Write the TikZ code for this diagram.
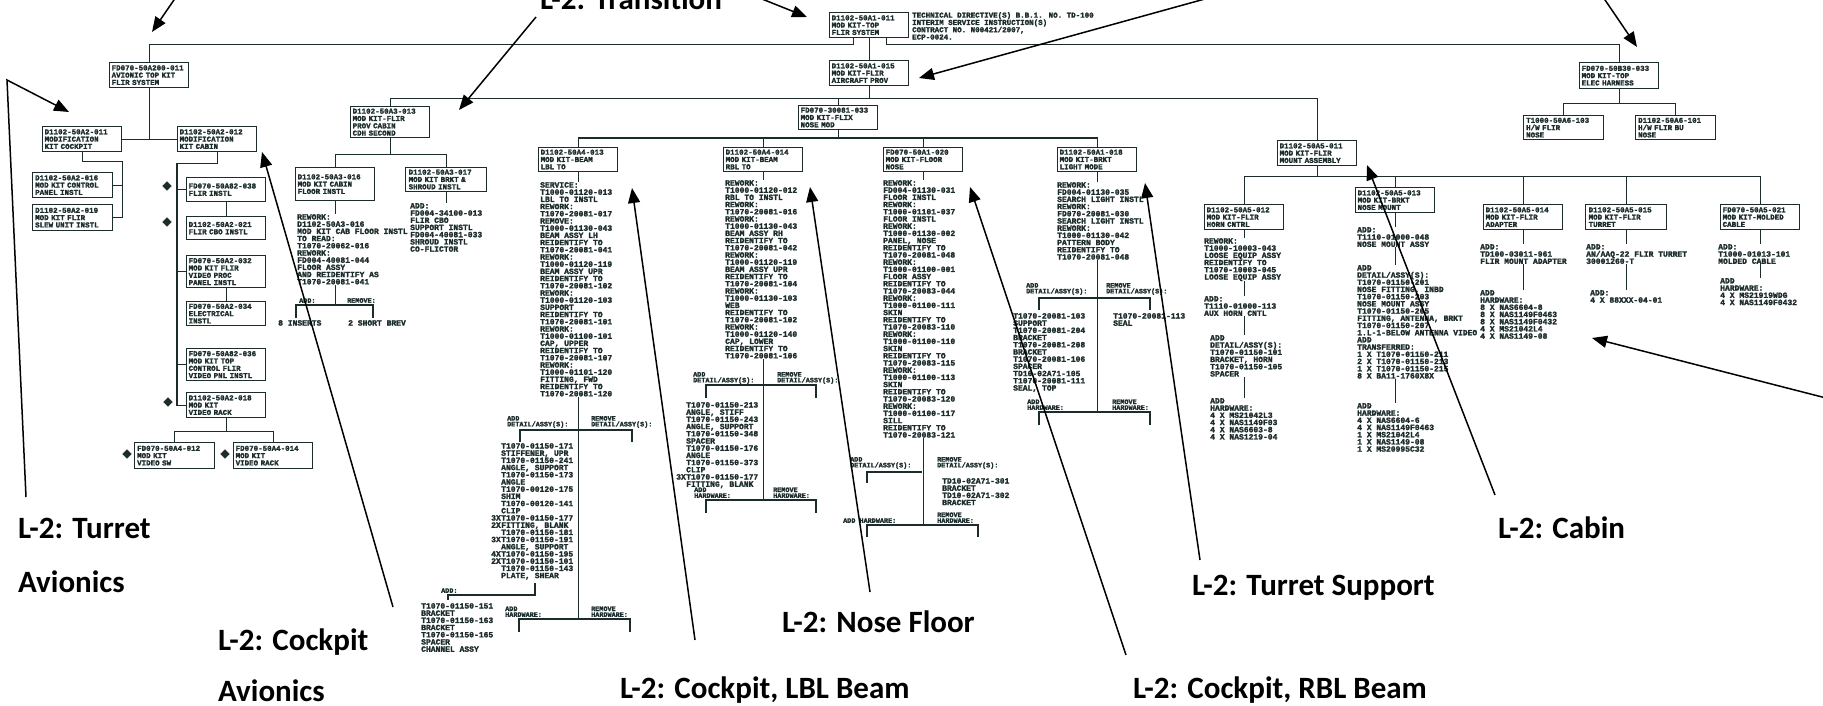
\documentclass[tikz,border=0pt]{standalone}
\usepackage{fontspec}
\usetikzlibrary{arrows.meta, shapes.geometric, calc}

\newfontfamily\calloutfam{Carlito}
\newfontfamily\partfam{Liberation Mono}[FakeBold=2]
\newcommand\calloutfont{\calloutfam\bfseries\fontsize{31}{36}\selectfont}
\newcommand\boxfont{\partfam\bfseries\fontsize{7.5}{7.3}\selectfont}
\newcommand\notefont{\partfam\bfseries\fontsize{8}{7.2}\selectfont}
\newcommand\tagfont{\partfam\bfseries\fontsize{6.8}{5.8}\selectfont}
\newcommand\mk[1]{\makebox[10pt][l]{#1}}
\definecolor{treeink}{HTML}{1C2B2B}

\begin{document}
\begin{tikzpicture}[
    x=1pt, y=-1pt,
    pbox/.style={
        draw=treeink,
        line width=1.3pt,
        anchor=north west,
        align=left,
        text width=75pt,
        inner sep=2pt,
        font=\boxfont,
        text=treeink,
        minimum width=79pt,
        minimum height=25pt
    },
    note/.style={anchor=north west, align=left, inner sep=0pt, font=\notefont, text=treeink},
    tag/.style={anchor=south west, align=left, inner sep=0pt, font=\tagfont, text=treeink},
    flag/.style={diamond, draw=treeink, fill=treeink, inner sep=0pt, minimum size=9pt},
    tline/.style={draw=treeink, line width=1.2pt},
    callout/.style={anchor=base west, inner sep=0pt, font=\calloutfont},
    pointer/.style={-{Triangle[length=15pt, width=12pt]}, line width=1.5pt}
]
    \useasboundingbox (0,0) rectangle (1823,706);

    % top of the tree
    \node[pbox] (root) at (829,12) {D1102-50A1-011\\MOD KIT-TOP\\FLIR SYSTEM};
    \node[note, font=\boxfont] (rootnote) at (912,12) {TECHNICAL DIRECTIVE(S) B.B.1. NO. TD-100\\INTERIM SERVICE INSTRUCTION(S)\\CONTRACT NO. N00421/2007,\\ECP-0024.};
    \node[pbox] (prov) at (829,60) {D1102-50A1-015\\MOD KIT-FLIR\\AIRCRAFT PROV};
    \node[pbox, minimum height=23pt] (flix) at (798,105) {FD070-30081-033\\MOD KIT-FLIX\\NOSE MOD};

    % avionics branch
    \node[pbox] (avtop) at (109,62) {FD070-50A200-011\\AVIONIC TOP KIT\\FLIR SYSTEM};
    \node[pbox] (cockpit) at (42,126) {D1102-50A2-011\\MODIFICATION\\KIT COCKPIT};
    \node[pbox] (cabav) at (177,126) {D1102-50A2-012\\MODIFICATION\\KIT CABIN};
    \node[pbox, minimum width=80pt] (ctl) at (32,172) {D1102-50A2-016\\MOD KIT CONTROL\\PANEL INSTL};
    \node[pbox, minimum width=80pt, minimum height=26pt] (slew) at (32,204) {D1102-50A2-019\\MOD KIT FLIR\\SLEW UNIT INSTL};
    \node[pbox, minimum height=24pt] (b1) at (186,177) {FD070-50A82-038\\FLIR INSTL};
    \node[pbox, minimum height=23pt] (b2) at (186,216) {D1102-50A2-021\\FLIR CBO INSTL};
    \node[pbox, minimum height=32pt] (b3) at (186,255) {FD070-50A2-032\\MOD KIT FLIR\\VIDEO PROC\\PANEL INSTL};
    \node[pbox, minimum height=24pt] (b4) at (186,301) {FD070-50A2-034\\ELECTRICAL\\INSTL};
    \node[pbox, minimum height=32pt] (b5) at (186,348) {FD070-50A82-036\\MOD KIT TOP\\CONTROL FLIR\\VIDEO PNL INSTL};
    \node[pbox] (b6) at (186,392) {D1102-50A2-018\\MOD KIT\\VIDEO RACK};
    \node[pbox, minimum width=80pt, minimum height=26pt] (b7) at (134,442) {FD070-50A4-012\\MOD KIT\\VIDEO SW};
    \node[pbox, minimum width=78pt, minimum height=26pt] (b8) at (233,442) {FD070-50A4-014\\MOD KIT\\VIDEO RACK};
    \node[flag] (fl1) at (167,186) {};
    \node[flag] (fl2) at (167,222) {};
    \node[flag] (fl3) at (168,402) {};
    \node[flag] (fl4) at (127,454) {};
    \node[flag] (fl5) at (225,454) {};

    % transition branch
    \node[pbox, minimum height=31pt] (trans) at (350,106) {D1102-50A3-013\\MOD KIT-FLIR\\PROV CABIN\\CDH SECOND};
    \node[pbox, minimum height=33pt] (tb1) at (295,167) {D1102-50A3-016\\MOD KIT CABIN\\FLOOR INSTL};
    \node[pbox, minimum width=81pt, minimum height=23pt] (tb2) at (405,167) {D1102-50A3-017\\MOD KIT BRKT \&\\SHROUD INSTL};
    \node[note] (tb1txt) at (297,214) {REWORK:\\D1102-50A3-016\\MOD KIT CAB FLOOR INSTL\\TO READ:\\T1070-20062-016\\REWORK:\\FD004-40081-044\\FLOOR ASSY\\AND REIDENTIFY AS\\T1070-20081-041};
    \node[note] (tb2txt) at (410,203) {ADD:\\FD004-34100-013\\FLIR CBO\\SUPPORT INSTL\\FD004-40081-033\\SHROUD INSTL\\CO-FLICTOR};
    \node[tag] (tbt1) at (299,303) {ADD:};
    \node[tag] (tbt2) at (347,303) {REMOVE:};
    \node[note] (tbins) at (278,320) {8 INSERTS};
    \node[note] (tbbrev) at (348,320) {2 SHORT BREV};

    % nose beams and floor
    \node[pbox, minimum height=23pt] (c1) at (538,147) {D1102-50A4-013\\MOD KIT-BEAM\\LBL TO};
    \node[pbox, minimum height=23pt] (c2) at (723,147) {D1102-50A4-014\\MOD KIT-BEAM\\RBL TO};
    \node[pbox, minimum height=23pt] (c3) at (883,147) {FD070-50A1-020\\MOD KIT-FLOOR\\NOSE};
    \node[pbox, minimum height=23pt] (c4) at (1057,147) {D1102-50A1-018\\MOD KIT-BRKT\\LIGHT MODE};

    \node[note] (c1txt) at (540,182) {SERVICE:\\T1000-01120-013\\LBL TO INSTL\\REWORK:\\T1070-20081-017\\REMOVE:\\T1000-01130-043\\BEAM ASSY LH\\REIDENTIFY TO\\T1070-20081-041\\REWORK:\\T1000-01120-119\\BEAM ASSY UPR\\REIDENTIFY TO\\T1070-20081-102\\REWORK:\\T1000-01120-103\\SUPPORT\\REIDENTIFY TO\\T1070-20081-101\\REWORK:\\T1000-01100-101\\CAP, UPPER\\REIDENTIFY TO\\T1070-20081-107\\REWORK:\\T1000-01101-120\\FITTING, FWD\\REIDENTIFY TO\\T1070-20081-120};
    \node[tag] (c1t1) at (507,428) {ADD\\DETAIL/ASSY(S):};
    \node[tag] (c1t2) at (591,428) {REMOVE\\DETAIL/ASSY(S):};
    \node[note] (c1add) at (491,443) {\mk{}T1070-01150-171\\\mk{}STIFFENER, UPR\\\mk{}T1070-01150-241\\\mk{}ANGLE, SUPPORT\\\mk{}T1070-01150-173\\\mk{}ANGLE\\\mk{}T1070-00120-175\\\mk{}SHIM\\\mk{}T1070-00120-141\\\mk{}CLIP\\\mk{3X}T1070-01150-177\\\mk{2X}FITTING, BLANK\\\mk{}T1070-01150-181\\\mk{3X}T1070-01150-191\\\mk{}ANGLE, SUPPORT\\\mk{4X}T1070-01150-195\\\mk{2X}T1070-01150-101\\\mk{}T1070-01150-143\\\mk{}PLATE, SHEAR};
    \node[tag] (c1t3) at (441,593) {ADD:};
    \node[note] (c1adx) at (421,603) {T1070-01150-151\\BRACKET\\T1070-01150-163\\BRACKET\\T1070-01150-165\\SPACER\\CHANNEL ASSY};
    \node[tag] (c1t4) at (505,617) {ADD\\HARDWARE:};
    \node[tag] (c1t5) at (591,617) {REMOVE\\HARDWARE:};

    \node[note] (c2txt) at (725,180) {REWORK:\\T1000-01120-012\\RBL TO INSTL\\REWORK:\\T1070-20081-016\\REWORK:\\T1000-01130-043\\BEAM ASSY RH\\REIDENTIFY TO\\T1070-20081-042\\REWORK:\\T1000-01120-119\\BEAM ASSY UPR\\REIDENTIFY TO\\T1070-20081-104\\REWORK:\\T1000-01130-103\\WEB\\REIDENTIFY TO\\T1070-20081-102\\REWORK:\\T1000-01120-140\\CAP, LOWER\\REIDENTIFY TO\\T1070-20081-106};
    \node[tag] (c2t1) at (693,384) {ADD\\DETAIL/ASSY(S):};
    \node[tag] (c2t2) at (777,384) {REMOVE\\DETAIL/ASSY(S):};
    \node[note] (c2add) at (676,402) {\mk{}T1070-01150-213\\\mk{}ANGLE, STIFF\\\mk{}T1070-01150-243\\\mk{}ANGLE, SUPPORT\\\mk{}T1070-01150-348\\\mk{}SPACER\\\mk{}T1070-01150-176\\\mk{}ANGLE\\\mk{}T1070-01150-373\\\mk{}CLIP\\\mk{3X}T1070-01150-177\\\mk{}FITTING, BLANK};
    \node[tag] (c2t3) at (694,498) {ADD\\HARDWARE:};
    \node[tag] (c2t4) at (773,498) {REMOVE\\HARDWARE:};

    \node[note] (c3txt) at (883,180) {REWORK:\\FD004-01130-031\\FLOOR INSTL\\REWORK:\\T1000-01101-037\\FLOOR INSTL\\REWORK:\\T1000-01130-002\\PANEL, NOSE\\REIDENTIFY TO\\T1070-20081-048\\REWORK:\\T1000-01100-001\\FLOOR ASSY\\REIDENTIFY TO\\T1070-20083-044\\REWORK:\\T1000-01100-111\\SKIN\\REIDENTIFY TO\\T1070-20083-110\\REWORK:\\T1000-01100-110\\SKIN\\REIDENTIFY TO\\T1070-20083-115\\REWORK:\\T1000-01100-113\\SKIN\\REIDENTIFY TO\\T1070-20083-120\\REWORK:\\T1000-01100-117\\SILL\\REIDENTIFY TO\\T1070-20083-121};
    \node[tag] (c3t1) at (850,469) {ADD\\DETAIL/ASSY(S):};
    \node[tag] (c3t2) at (937,469) {REMOVE\\DETAIL/ASSY(S):};
    \node[note] (c3rt) at (942,478) {TD10-02A71-301\\BRACKET\\TD10-02A71-302\\BRACKET};
    \node[tag] (c3t3) at (843,523) {ADD HARDWARE:};
    \node[tag] (c3t4) at (937,523) {REMOVE\\HARDWARE:};

    \node[note] (c4txt) at (1057,182) {REWORK:\\FD004-01130-035\\SEARCH LIGHT INSTL\\REWORK:\\FD070-20081-030\\SEARCH LIGHT INSTL\\REWORK:\\T1000-01130-042\\PATTERN BODY\\REIDENTIFY TO\\T1070-20081-048};
    \node[tag] (c4t1) at (1026,295) {ADD\\DETAIL/ASSY(S):};
    \node[tag] (c4t2) at (1106,295) {REMOVE\\DETAIL/ASSY(S):};
    \node[note] (c4lt) at (1013,313) {T1070-20081-103\\SUPPORT\\T1070-20081-204\\BRACKET\\T1070-20081-208\\BRACKET\\T1070-20081-106\\SPACER\\TD10-02A71-105\\T1070-20081-111\\SEAL, TOP};
    \node[note] (c4rt) at (1113,313) {T1070-20081-113\\SEAL};
    \node[tag] (c4t3) at (1027,410) {ADD\\HARDWARE:};
    \node[tag] (c4t4) at (1112,410) {REMOVE\\HARDWARE:};

    % cabin branch
    \node[pbox] (cabin) at (1277,140) {D1102-50A5-011\\MOD KIT-FLIR\\MOUNT ASSEMBLY};
    \node[pbox] (k1) at (1204,204) {D1102-50A5-012\\MOD KIT-FLIR\\HORN CNTRL};
    \node[pbox] (k2) at (1355,187) {D1102-50A5-013\\MOD KIT-BRKT\\NOSE MOUNT};
    \node[pbox] (k3) at (1483,204) {D1102-50A5-014\\MOD KIT-FLIR\\ADAPTER};
    \node[pbox, minimum width=81pt] (k4) at (1585,204) {D1102-50A5-015\\MOD KIT-FLIR\\TURRET};
    \node[pbox, minimum width=78pt] (k5) at (1720,204) {FD070-50A5-021\\MOD KIT-MOLDED\\CABLE};

    \node[note] (k1a) at (1204,238) {REWORK:\\T1000-10003-043\\LOOSE EQUIP ASSY\\REIDENTIFY TO\\T1070-10003-045\\LOOSE EQUIP ASSY};
    \node[note] (k1b) at (1204,296) {ADD:\\T1110-01000-113\\AUX HORN CNTL};
    \node[note] (k1c) at (1210,335) {ADD\\DETAIL/ASSY(S):\\T1070-01150-101\\BRACKET, HORN\\T1070-01150-105\\SPACER};
    \node[note] (k1d) at (1210,398) {ADD\\HARDWARE:\\4 X MS21042L3\\4 X NAS1149F03\\4 X NAS6603-8\\4 X NAS1219-04};
    \node[note] (k2a) at (1357,227) {ADD:\\T1110-01000-048\\NOSE MOUNT ASSY};
    \node[note] (k2b) at (1357,265) {ADD\\DETAIL/ASSY(S):\\T1070-01150-201\\NOSE FITTING, INBD\\T1070-01150-203\\NOSE MOUNT ASSY\\T1070-01150-205\\FITTING, ANTENNA, BRKT\\T1070-01150-207\\1.L-1-BELOW ANTENNA VIDEO\\ADD\\TRANSFERRED:\\1 X T1070-01150-211\\2 X T1070-01150-213\\1 X T1070-01150-215\\8 X BA11-1760X8X};
    \node[note] (k2c) at (1357,403) {ADD\\HARDWARE:\\4 X NAS6604-6\\4 X NAS1149F0463\\1 X MS21042L4\\1 X NAS1149-08\\1 X MS20995C32};
    \node[note] (k3a) at (1480,244) {ADD:\\TD100-03011-961\\FLIR MOUNT ADAPTER};
    \node[note] (k3b) at (1480,290) {ADD\\HARDWARE:\\8 X NAS6604-8\\8 X NAS1149F0463\\8 X NAS1149F0432\\4 X MS21042L4\\4 X NAS1149-08};
    \node[note] (k4a) at (1586,244) {ADD:\\AN/AAQ-22 FLIR TURRET\\30001260-T};
    \node[note] (k4b) at (1590,290) {ADD:\\4 X 88XXX-04-01};
    \node[note] (k5a) at (1718,244) {ADD:\\T1000-01013-101\\MOLDED CABLE};
    \node[note] (k5b) at (1720,278) {ADD\\HARDWARE:\\4 X MS21919WDG\\4 X NAS1149F0432};

    % electrical branch
    \node[pbox, minimum height=26pt] (elec) at (1579,62) {FD070-50B30-033\\MOD KIT-TOP\\ELEC HARNESS};
    \node[pbox, minimum width=80pt, minimum height=24pt] (r1) at (1523,115) {T1000-50A6-103\\H/W FLIR\\NOSE};
    \node[pbox, minimum width=80pt, minimum height=24pt] (r2) at (1635,115) {D1102-50A6-101\\H/W FLIR BU\\NOSE};

    % tree lines
    \draw[tline] (avtop.north) |- ([xshift=-16pt, yshift=-6pt]root.south) -- ([xshift=-16pt]root.south);
    \draw[tline] (elec.north) |- ([xshift=17pt, yshift=-6pt]root.south) -- ([xshift=17pt]root.south);
    \draw[tline] (root.south) -- (prov.north);
    \coordinate (busB) at ([yshift=-12pt]prov.south);
    \draw[tline] (prov.south) -- (busB);
    \draw[tline] (trans.north) |- (busB) -| (cabin.north);
    \draw[tline] (flix.north) -- (flix.north |- busB);
    \coordinate (busC) at ([yshift=-8pt]flix.south);
    \draw[tline] (flix.south) -- (busC);
    \draw[tline] (c1.north) |- (busC) -| (c4.north);
    \draw[tline] (c2.north) -- (c2.north |- busC);
    \draw[tline] (c3.north) -- (c3.north |- busC);

    \draw[tline] (avtop.south) -- (avtop.south |- cockpit.east);
    \draw[tline] (cockpit.east) -- (cabav.west);
    \draw[tline] (cockpit.south) -- ++(0,9) -| ([xshift=9pt]slew.east) -- (slew.east);
    \draw[tline] (ctl.east) -- ++(9,0);
    \draw[tline] (cabav.south) -- ++(0,11) -| ([xshift=-9pt]b6.west) -- (b6.west);
    \draw[tline] (b1.west) -- ++(-9,0);
    \draw[tline] (b3.west) -- ++(-9,0);
    \draw[tline] (b5.west) -- ++(-9,0);
    \draw[tline] (b1.south) -- (b2.north);
    \draw[tline] (b3.south) -- (b4.north);
    \draw[tline] (b6.south) -- ++(0,13) coordinate (busD);
    \draw[tline] (b7.north) |- (busD) -| (b8.north);

    \draw[tline] (trans.south) -- ++(0,16) coordinate (busE);
    \draw[tline] (tb1.north) |- (busE) -| (tb2.north);
    \draw[tline] (tb1.south) -- (tb1.south |- tb1txt.north);
    \coordinate (busF) at (334,305);
    \draw[tline] (tb1.south |- tb1txt.south) -- (tb1.south |- busF);
    \coordinate (tbl) at (296,318);
    \coordinate (tbr) at (373,318);
    \draw[tline] (tbl) -- ++(0,-13) -| (tbr);
    \draw[tline] (tb2.south) -- (tb2.south |- tb2txt.north);

    \coordinate (c1hw) at (577,619);
    \draw[tline] (c1.south) -- (c1.south |- c1txt.north);
    \draw[tline] (c1.south |- c1txt.south) -- (c1.south |- c1hw);
    \coordinate (c1dl) at (520,442);
    \coordinate (c1dr) at (632,442);
    \draw[tline] (c1dl) -- ++(0,-12) -| (c1dr);
    \coordinate (c1al) at (535,583);
    \coordinate (c1ar) at (448,600);
    \draw[tline] (c1al) -- ++(0,12) -| (c1ar);
    \coordinate (c1hl) at (519,632);
    \coordinate (c1hr) at (630,632);
    \draw[tline] (c1hl) -- ++(0,-13) -| (c1hr);

    \coordinate (c2hw) at (762,500);
    \draw[tline] (c2.south) -- (c2.south |- c2txt.north);
    \draw[tline] (c2.south |- c2txt.south) -- (c2.south |- c2hw);
    \coordinate (c2dl) at (706,398);
    \coordinate (c2dr) at (816,398);
    \draw[tline] (c2dl) -- ++(0,-13) -| (c2dr);
    \coordinate (c2hl) at (706,513);
    \coordinate (c2hr) at (816,513);
    \draw[tline] (c2hl) -- ++(0,-13) -| (c2hr);

    \coordinate (c3hw) at (922,525);
    \draw[tline] (c3.south) -- (c3.south |- c3txt.north);
    \draw[tline] (c3.south |- c3txt.south) -- (c3.south |- c3hw);
    \coordinate (c3dl) at (867,483);
    \coordinate (c3bar) at (922,472);
    \draw[tline] (c3dl) |- (c3bar);
    \coordinate (c3hl) at (867,537);
    \coordinate (c3hr) at (978,537);
    \draw[tline] (c3hl) -- ++(0,-12) -| (c3hr);

    \coordinate (c4hw) at (1096,412);
    \draw[tline] (c4.south) -- (c4.south |- c4txt.north);
    \draw[tline] (c4.south |- c4txt.south) -- (c4.south |- c4hw);
    \coordinate (c4dl) at (1039,310);
    \coordinate (c4dr) at (1150,310);
    \draw[tline] (c4dl) -- ++(0,-12) -| (c4dr);
    \coordinate (c4hl) at (1039,425);
    \coordinate (c4hr) at (1150,425);
    \draw[tline] (c4hl) -- ++(0,-13) -| (c4hr);

    \draw[tline] (cabin.south) -- ++(0,10) coordinate (busG);
    \draw[tline] (k1.north) |- (busG) -| (k5.north);
    \foreach \k in {k2, k3, k4}
        \draw[tline] (\k.north) -- (\k.north |- busG);
    \draw[tline] (k1.south) -- (k1.south |- k1a.north);
    \draw[tline] (k1.south |- k1a.south) -- (k1.south |- k1b.north);
    \draw[tline] (k1.south |- k1b.south) -- (k1.south |- k1c.north);
    \draw[tline] (k1.south |- k1c.south) -- (k1.south |- k1d.north);
    \draw[tline] (k2.south) -- (k2.south |- k2a.north);
    \draw[tline] (k2.south |- k2a.south) -- (k2.south |- k2b.north);
    \draw[tline] (k2.south |- k2b.south) -- (k2.south |- k2c.north);
    \draw[tline] (k3.south) -- (k3.south |- k3a.north);
    \draw[tline] (k3.south |- k3a.south) -- (k3.south |- k3b.north);
    \draw[tline] (k4.south) -- (k4.south |- k4a.north);
    \draw[tline] (k4.south |- k4a.south) -- (k4.south |- k4b.north);
    \draw[tline] (k5.south) -- (k5.south |- k5a.north);
    \draw[tline] (k5.south |- k5a.south) -- (k5.south |- k5b.north);

    \draw[tline] (elec.south) -- ++(0,14) coordinate (busH);
    \draw[tline] (r1.north) |- (busH) -| (r2.north);

    % callouts
    \node[callout] (lTrans) at (540,10) {L-2: Transition};
    \node[callout] (lTurret) at (18,538) {L-2: Turret};
    \node[callout] (lTurret2) at (18,592) {Avionics};
    \node[callout] (lCockpit) at (218,650) {L-2: Cockpit};
    \node[callout] (lCockpit2) at (218,701) {Avionics};
    \node[callout] (lLBL) at (620,698) {L-2: Cockpit, LBL Beam};
    \node[callout] (lNose) at (782,632) {L-2: Nose Floor};
    \node[callout] (lRBL) at (1133,698) {L-2: Cockpit, RBL Beam};
    \node[callout] (lSupport) at (1192,595) {L-2: Turret Support};
    \node[callout] (lCabin) at (1498,538) {L-2: Cabin};

    \coordinate (aTopL) at (176,-3);
    \coordinate (hTopL) at (152,32);
    \coordinate (aTurret) at (26,497);
    \coordinate (kTurret) at (7,80);
    \coordinate (hTurret) at (69,112);
    \coordinate (aCockpit) at (393,607);
    \coordinate (hCockpit) at (262,152);
    \coordinate (aTrans) at (536,17);
    \coordinate (hTrans) at (459,110);
    \coordinate (aTrans2) at (757,-3);
    \coordinate (hTrans2) at (807,17);
    \coordinate (aMid) at (1212,-3);
    \coordinate (hMid) at (919,78);
    \coordinate (aTopR) at (1603,-3);
    \coordinate (hTopR) at (1637,47);
    \coordinate (aLBL) at (695,640);
    \coordinate (hLBL) at (632,188);
    \coordinate (aNose) at (870,592);
    \coordinate (hNose) at (810,187);
    \coordinate (aRBL) at (1126,655);
    \coordinate (hRBL) at (970,187);
    \coordinate (aSupport) at (1200,560);
    \coordinate (hSupport) at (1145,183);
    \coordinate (aCabin) at (1495,495);
    \coordinate (hCabin) at (1367,165);
    \coordinate (aRight) at (1826,398);
    \coordinate (hRight) at (1592,338);

    \draw[pointer] (aTopL) -- (hTopL);
    \draw[pointer] (aTurret) -- (kTurret) -- (hTurret);
    \draw[pointer] (aCockpit) -- (hCockpit);
    \draw[pointer] (aTrans) -- (hTrans);
    \draw[pointer] (aTrans2) -- (hTrans2);
    \draw[pointer] (aMid) -- (hMid);
    \draw[pointer] (aTopR) -- (hTopR);
    \draw[pointer] (aLBL) -- (hLBL);
    \draw[pointer] (aNose) -- (hNose);
    \draw[pointer] (aRBL) -- (hRBL);
    \draw[pointer] (aSupport) -- (hSupport);
    \draw[pointer] (aCabin) -- (hCabin);
    \draw[pointer] (aRight) -- (hRight);
\end{tikzpicture}
\end{document}
